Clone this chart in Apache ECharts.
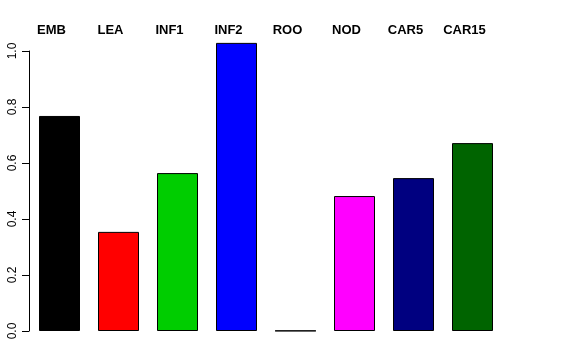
<!DOCTYPE html>
<html><head><meta charset="utf-8">
<script src="https://cdn.jsdelivr.net/npm/echarts@6/dist/echarts.min.js"></script>
<style>html,body{margin:0;padding:0;background:#fff}#c{width:576px;height:360px}</style>
</head><body><div id="c"></div>
<script>
const categories = ["EMB","LEA","INF1","INF2","ROO","NOD","CAR5","CAR15"];
const values = [0.768, 0.354, 0.564, 1.029, 0.001, 0.482, 0.546, 0.671];
const colors = ["#000000","#FF0000","#00CD00","#0000FF","#00FFFF","#FF00FF","#000080","#006400"];
const yTicks = [0, 0.2, 0.4, 0.6, 0.8, 1.0];

const chart = echarts.init(document.getElementById('c'), null, {renderer:'canvas'});
chart.setOption({
  animation:false,
  backgroundColor:'#fff',
  textStyle:{fontFamily:'Liberation Sans, Arial, sans-serif'},
  grid:{left:30, top:51, width:472, height:280, containLabel:false},
  xAxis:{
    type:'category', data:categories, position:'top',
    axisLine:{show:false}, axisTick:{show:false},
    axisLabel:{color:'#000', fontWeight:'bold', fontSize:13, margin:14, padding:[0,16,0,0],
      fontFamily:'Liberation Sans, Arial, sans-serif'}
  },
  yAxis:{
    type:'value', min:yTicks[0], max:yTicks[yTicks.length-1], interval:0.2, offset:1,
    splitLine:{show:false},
    axisLine:{show:true, lineStyle:{color:'#000', width:1}},
    axisTick:{show:true, length:7, lineStyle:{color:'#000'}},
    axisLabel:{color:'#000', fontSize:12, rotate:90, margin:10,
      formatter:v=>v.toFixed(1), fontFamily:'Liberation Sans, Arial, sans-serif'}
  },
  series:[{
    type:'bar', barWidth:41, clip:false,
    data: values.map((v,i)=>({value:v, itemStyle:{color:colors[i]}})),
    itemStyle:{borderColor:'#000', borderWidth:1}
  }]
});
</script></body></html>
